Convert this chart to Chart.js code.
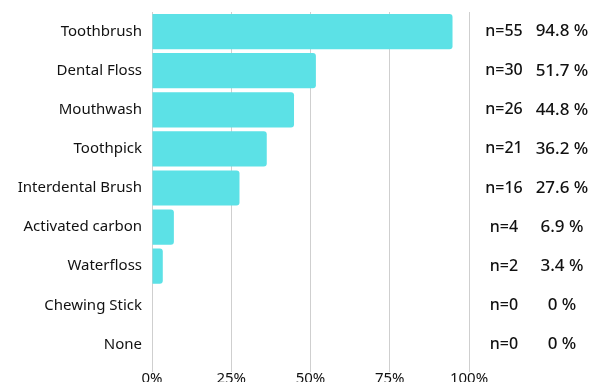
<!DOCTYPE html>
<html>
<head>
<meta charset="utf-8">
<script src="https://cdn.jsdelivr.net/npm/chart.js@4"></script>
<style>
  html, body { margin: 0; padding: 0; background: #fff; overflow: hidden; }
  #wrap { width: 603px; height: 382px; }
</style>
</head>
<body>
<div id="wrap"><canvas id="barChart" width="603" height="382"></canvas></div>
<script>
var categories = ['Toothbrush', 'Dental Floss', 'Mouthwash', 'Toothpick', 'Interdental Brush',
                  'Activated carbon', 'Waterfloss', 'Chewing Stick', 'None'];
var percents = [94.8, 51.7, 44.8, 36.2, 27.6, 6.9, 3.4, 0, 0];
var counts = [55, 30, 26, 21, 16, 4, 2, 0, 0];
var xTicks = [0, 25, 50, 75, 100];

var fontFamily = '"Noto Sans", "Open Sans", sans-serif';

// n=.. and % text on the right of the plot
var sideLabels = {
    id: 'sideLabels',
    afterDraw: function (chart) {
        var ctx = chart.ctx;
        var yScale = chart.scales.y;
        ctx.save();
        ctx.fillStyle = '#111';
        ctx.textAlign = 'center';
        ctx.textBaseline = 'middle';
        for (var i = 0; i < categories.length; i++) {
            var y = yScale.getPixelForValue(i);
            ctx.font = '500 16px ' + fontFamily;
            ctx.fillText('n=' + counts[i], 504, y);
            ctx.font = '500 17px ' + fontFamily;
            ctx.fillText(percents[i] + ' %', 562, y);
        }
        ctx.restore();
    }
};

var barChartCanvas = document.getElementById('barChart').getContext('2d');
var barChart = new Chart(barChartCanvas, {
    type: 'bar',
    data: {
        labels: categories,
        datasets: [{
            data: percents,
            backgroundColor: '#5ce1e6',
            borderWidth: 0,
            borderRadius: 3,
            borderSkipped: 'start',
            categoryPercentage: 0.9,
            barPercentage: 1.0
        }]
    },
    options: {
        indexAxis: 'y',
        responsive: false,
        animation: false,
        layout: { padding: { top: 12, right: 134, left: 0, bottom: 0 } },
        plugins: {
            legend: { display: false },
            tooltip: { enabled: false }
        },
        scales: {
            x: {
                min: 0,
                max: 100,
                afterBuildTicks: function (scale) {
                    scale.ticks = xTicks.map(function (v) { return { value: v }; });
                },
                afterFit: function (scale) { scale.height = 18; },
                border: { display: false },
                grid: { color: '#cfcfcf', lineWidth: 1, tickLength: 8, drawOnChartArea: true },
                ticks: {
                    color: '#111',
                    font: { family: fontFamily, size: 15 },
                    padding: -2,
                    maxRotation: 0,
                    callback: function (v) { return v + '%'; }
                }
            },
            y: {
                afterFit: function (scale) {
                    scale.width = 152;
                    scale.paddingTop = 0;
                    scale.paddingBottom = 0;
                },
                border: { display: false },
                grid: { display: false },
                ticks: {
                    color: '#111',
                    font: { family: fontFamily, size: 15 },
                    padding: 2
                }
            }
        }
    },
    plugins: [sideLabels]
});
</script>
</body>
</html>
